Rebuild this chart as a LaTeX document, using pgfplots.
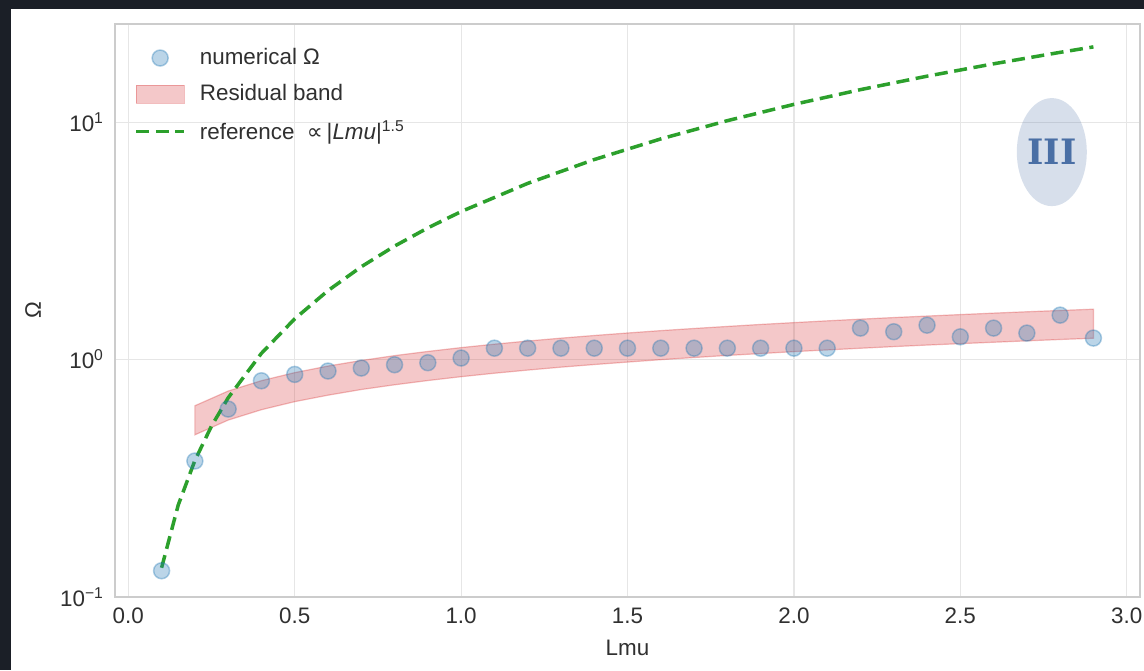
\documentclass[border=0pt]{standalone}
\usepackage{fontspec}
\setmainfont{Liberation Sans}
\newfontfamily\dvsans{DejaVu Sans}
\newfontfamily\dvserifb{DejaVu Serif Bold}
\usepackage{pgfplots}
\pgfplotsset{compat=1.18}
\definecolor{bgdark}{HTML}{1B1F27}
\definecolor{ptblue}{HTML}{1F77B4}
\definecolor{bandred}{HTML}{D62728}
\definecolor{refgreen}{HTML}{2CA02C}
\definecolor{txt}{HTML}{303030}
\definecolor{framec}{HTML}{CCCCCC}
\definecolor{gridc}{HTML}{E6E6E6}
\definecolor{annoc}{HTML}{4A6FA5}

\begin{document}
\begin{tikzpicture}
\useasboundingbox (0,0) rectangle (572pt,335pt);
% dark frame round the white figure
\fill[bgdark] (0,0) rectangle (572pt,335pt);
\fill[white] (5.5pt,0) rectangle (572pt,330.5pt);
\begin{axis}[
 at={(57.5pt,36.5pt)},anchor=south west,
 scale only axis,width=512.5pt,height=286.5pt,
 xmin=-0.04,xmax=3.04,ymode=log,ymin=0.1,ymax=25.9,
 xtick={0,0.5,1,1.5,2,2.5,3},
 xticklabels={0.0,0.5,1.0,1.5,2.0,2.5,3.0},
 ytick={0.1,1,10},
 yticklabels={10\textsuperscript{−1},10\textsuperscript{0},10\textsuperscript{1}},
 major tick length=0pt,minor tick length=0pt,
 grid=major,grid style={gridc,line width=0.6pt},
 axis line style={framec,line width=1pt},
 tick label style={font=\fontsize{11.2}{13}\selectfont,text=txt},
 xticklabel style={yshift=-2pt},
 yticklabel style={xshift=-2pt},
 label style={font=\fontsize{11.2}{13}\selectfont,text=txt},
 xlabel={Lmu},ylabel={Ω},
 xlabel style={at={(axis description cs:0.5,-0.089)},anchor=center},
 ylabel style={at={(axis description cs:-0.080,0.5)},anchor=center},
 legend style={at={(axis description cs:0,1)},anchor=north west,
   xshift=9.5pt,yshift=-10pt,draw=none,fill=none,inner sep=0pt,
   font=\fontsize{11.2}{13}\selectfont,text=txt,row sep=4.5pt,column sep=5pt},
 legend cell align=left,
]
% residual band
\addplot[fill=bandred,fill opacity=0.25,draw=bandred,draw opacity=0.3,line width=0.6pt,forget plot] coordinates {
 (0.2,0.639) (0.3,0.737) (0.4,0.815) (0.5,0.881) (0.6,0.939) (0.7,0.991)
 (0.8,1.039) (0.9,1.082) (1.0,1.123) (1.1,1.161) (1.2,1.197) (1.3,1.231)
 (1.4,1.263) (1.5,1.294) (1.6,1.324) (1.7,1.352) (1.8,1.379) (1.9,1.406)
 (2.0,1.431) (2.1,1.456) (2.2,1.480) (2.3,1.503) (2.4,1.525) (2.5,1.547)
 (2.6,1.569) (2.7,1.590) (2.8,1.610) (2.9,1.630)
 (2.9,1.230) (2.8,1.215) (2.7,1.199) (2.6,1.183) (2.5,1.167) (2.4,1.151)
 (2.3,1.134) (2.2,1.116) (2.1,1.098) (2.0,1.080) (1.9,1.060) (1.8,1.041)
 (1.7,1.020) (1.6,0.999) (1.5,0.976) (1.4,0.953) (1.3,0.929) (1.2,0.903)
 (1.1,0.876) (1.0,0.847) (0.9,0.816) (0.8,0.783) (0.7,0.748) (0.6,0.708)
 (0.5,0.665) (0.4,0.615) (0.3,0.556) (0.2,0.482)
} -- cycle;
% numerical Omega
\addplot[only marks,mark=*,mark size=4pt,
 mark options={fill=ptblue,fill opacity=0.3,draw=ptblue,draw opacity=0.35,line width=0.75pt},forget plot] coordinates {
 (0.1,0.129) (0.2,0.374) (0.3,0.619) (0.4,0.814) (0.5,0.866) (0.6,0.895)
 (0.7,0.921) (0.8,0.951) (0.9,0.970) (1.0,1.015) (1.1,1.117) (1.2,1.117)
 (1.3,1.117) (1.4,1.117) (1.5,1.117) (1.6,1.117) (1.7,1.117) (1.8,1.117)
 (1.9,1.117) (2.0,1.117) (2.1,1.117) (2.2,1.357) (2.3,1.310) (2.4,1.396)
 (2.5,1.247) (2.6,1.357) (2.7,1.293) (2.8,1.539) (2.9,1.232)
};
% reference curve
\addplot[refgreen,line width=1.75pt,dash pattern=on 6.5pt off 3.3pt,forget plot] coordinates {
 (0.1,0.1328) (0.15,0.244) (0.2,0.3757) (0.25,0.525) (0.3,0.690) (0.4,1.0625)
 (0.5,1.485) (0.6,1.952) (0.7,2.460) (0.8,3.005) (0.9,3.586) (1.0,4.200)
 (1.2,5.521) (1.4,6.957) (1.6,8.500) (1.8,10.143) (2.0,11.879) (2.2,13.705)
 (2.4,15.616) (2.6,17.608) (2.8,19.678) (2.9,20.742)
};
% annotation
\fill[annoc,opacity=0.22] (axis cs:2.775,7.48) ellipse (17.5pt and 27pt);
\node[text=annoc,font=\dvserifb\fontsize{17.5}{20}\selectfont] at (axis cs:2.775,7.48) {III};
% legend
\addlegendimage{legend image code/.code={\draw[ptblue,fill=ptblue,fill opacity=0.3,draw opacity=0.35,line width=0.75pt] (12pt,0pt) circle (4pt);}}
\addlegendentry{numerical Ω}
\addlegendimage{legend image code/.code={\draw[bandred,fill=bandred,fill opacity=0.25,draw opacity=0.3,line width=0.6pt] (0pt,-4.5pt) rectangle (24pt,4.5pt);}}
\addlegendentry{Residual band}
\addlegendimage{legend image code/.code={\draw[refgreen,line width=1.75pt,dash pattern=on 6.5pt off 3.3pt] (0pt,0pt) -- (24pt,0pt);}}
\addlegendentry{reference\; {\dvsans ∝}\,|\textit{Lmu}|\textsuperscript{1.5}}
\end{axis}
\end{tikzpicture}
\end{document}
